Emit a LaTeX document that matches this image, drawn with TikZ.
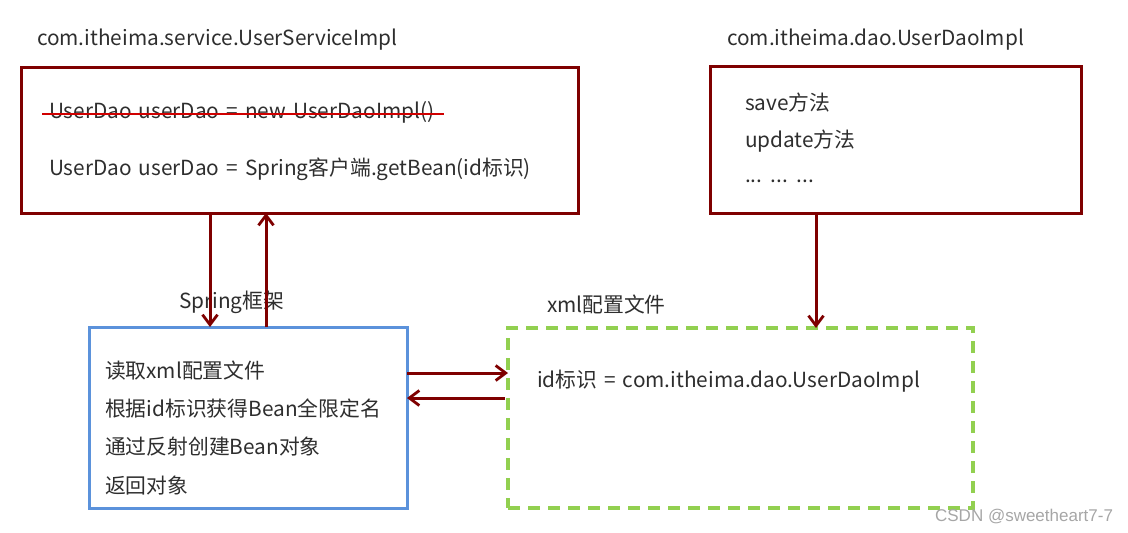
\documentclass[tikz,border=0pt]{standalone}
\usepackage{fontspec}
\setmainfont{Noto Sans CJK SC}
\newfontfamily\wmfont{Liberation Sans}
\usetikzlibrary{arrows.meta}
\definecolor{boxred}{HTML}{7F0000}
\definecolor{strike}{HTML}{D00000}
\definecolor{boxblue}{HTML}{5B92DB}
\definecolor{boxgreen}{HTML}{92D050}
\definecolor{txtgray}{HTML}{2E2E2E}

\begin{document}
\begin{tikzpicture}[x=1pt,y=-1pt,
    font=\fontsize{20.8}{25}\selectfont,
    every node/.style={inner sep=0pt,outer sep=0pt,text=txtgray},
    redbox/.style={draw=boxred,line width=3pt,anchor=north west},
    bluebox/.style={draw=boxblue,line width=3pt,anchor=north west},
    greenbox/.style={draw=boxgreen,line width=3.2pt,dash pattern=on 12pt off 8pt,anchor=north west},
    lbl/.style={anchor=west,execute at begin node={\spaceskip=0.34em\relax}},
    arr/.style={draw=boxred,line width=3pt,-{Straight Barb[length=10pt,width=15pt,line width=2.8pt]}}]
    \useasboundingbox (0,0) rectangle (1128,533);

    % boxes
    \node[redbox,minimum width=557pt,minimum height=146pt] (service) at (21,67) {};
    \node[redbox,minimum width=371pt,minimum height=147pt] (dao) at (710,66) {};
    \node[bluebox,minimum width=318pt,minimum height=181pt] (spring) at (89,327) {};
    \node[greenbox,minimum width=465pt,minimum height=180pt] (xml) at (508,328) {};

    % titles
    \node[lbl] (servicetitle) at (37,40) {com.itheima.service.UserServiceImpl};
    \node[lbl] (daotitle) at (727,40) {com.itheima.dao.UserDaoImpl};
    \node[lbl] (springtitle) at (179,302) {Spring框架};
    \node[lbl] (xmltitle) at (547,305) {xml配置文件};

    % contents
    \node[lbl] (oldline) at (49,112) {UserDao userDao = new UserDaoImpl()};
    \draw[strike,line width=1.2pt] ([xshift=-7pt,yshift=-2pt]oldline.west) -- ([xshift=10pt,yshift=-2pt]oldline.east);
    \node[lbl] (newline) at (49,169) {UserDao userDao = Spring客户端.getBean(id标识)};

    \node[lbl] (save) at (745,103) {save方法};
    \node[lbl] (update) at (745,141) {update方法};
    \node[lbl] (more) at (745,181) {... ... ...};

    \foreach \txt/\y [count=\i] in {读取xml配置文件/371, 根据id标识获得Bean全限定名/409, 通过反射创建Bean对象/447, 返回对象/486}
        \node[lbl] (step-\i) at (105,\y) {\txt};

    \node[lbl] (mapping) at (537,381) {id标识 = com.itheima.dao.UserDaoImpl};

    % connectors
    \draw[arr] (service.south -| 210,0) -- (spring.north -| 210,0);
    \draw[arr] (spring.north -| 266,0) -- (service.south -| 266,0);
    \draw[arr] (dao.south -| 816,0) -- (xml.north -| 816,0);
    \draw[arr] (spring.east |- 0,373) -- (xml.west |- 0,373);
    \draw[arr] ([xshift=-3pt]xml.west |- 0,398) -- (spring.east |- 0,398);

    \node[anchor=east,text=black!35,font=\wmfont\fontsize{17}{20}\selectfont] (mark) at (1113,517) {CSDN @sweetheart7-7};
\end{tikzpicture}
\end{document}
